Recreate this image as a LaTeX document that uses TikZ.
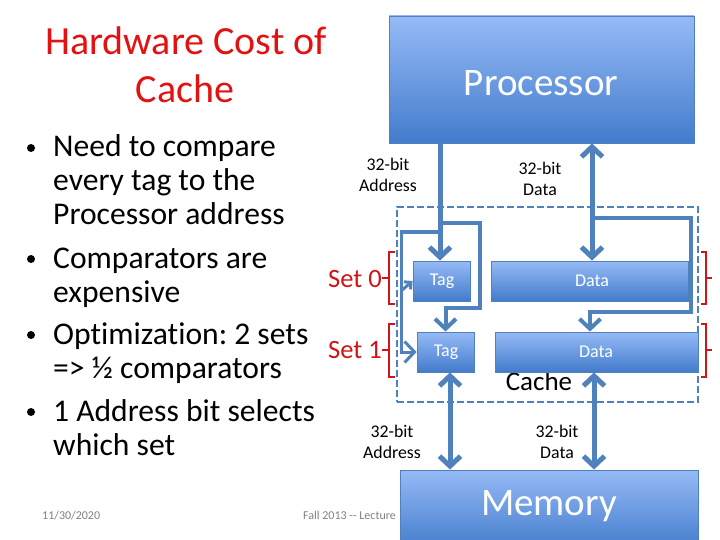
\documentclass[tikz,border=0pt]{standalone}
\usepackage{fontspec}
\setmainfont{Carlito}[Ligatures=NoCommon]
\usetikzlibrary{arrows.meta}
\definecolor{wire}{RGB}{79,129,189}
\definecolor{boxtop}{RGB}{150,186,246}
\definecolor{boxbot}{RGB}{66,124,204}
\definecolor{titlered}{RGB}{226,18,18}
\definecolor{setred}{RGB}{208,20,24}
\definecolor{footgray}{RGB}{128,128,128}
\tikzset{
  blk/.style={draw=wire, line width=0.8pt, top color=boxtop, bottom color=boxbot, inner sep=0pt},
  boxtext/.style={text=white, inner sep=0pt, font=\fontsize{18}{20}\selectfont},
  bigtext/.style={text=white, inner sep=0pt, font=\fontsize{39}{41}\selectfont},
  buslabel/.style={align=center, inner sep=0pt, font=\fontsize{17.8}{20.5}\selectfont},
  bullettext/.style={anchor=base west, inner sep=0pt, font=\fontsize{31.6}{34}\selectfont},
  bulletdot/.style={circle, fill=black, inner sep=0pt, minimum size=8pt},
  settext/.style={anchor=base west, inner sep=0pt, text=setred, font=\fontsize{26.5}{28}\selectfont},
  titletext/.style={inner sep=0pt, text=titlered, font=\fontsize{40}{44}\selectfont},
  foottext/.style={inner sep=0pt, text=footgray, font=\fontsize{12}{14}\selectfont},
  bus/.style={draw=wire, line width=5pt},
  busmid/.style={draw=wire, line width=4pt},
  busthin/.style={draw=wire, line width=3pt},
  tipbig/.style={-{Straight Barb[length=10pt,width=21pt]}},
  tipboth/.style={{Straight Barb[length=10pt,width=21pt]}-{Straight Barb[length=10pt,width=21pt]}},
  tipsmall/.style={-{Straight Barb[length=5pt,width=10pt]}},
  cachebox/.style={draw=wire, line width=2.5pt, dash pattern=on 7pt off 3pt, inner sep=0pt},
  bracket/.style={draw=setred, line width=2.5pt}
}
\begin{document}
\frenchspacing
\begin{tikzpicture}[x=1pt,y=-1pt]
\useasboundingbox (0,0) rectangle (720,540);
\clip (0,0) rectangle (720,540);

% title
\node[titletext, anchor=base] (t1) at (186,55) {Hardware Cost of};
\node[titletext, anchor=base] (t2) at (185,103) {Cache};

% bullets
\node[bulletdot] (b1) at (31,148) {};
\node[bullettext] (l1) at (53,157) {Need to compare};
\node[bullettext] (l2) at (53,191) {every tag to the};
\node[bullettext] (l3) at (53,225) {Processor address};
\node[bulletdot] (b2) at (31,259) {};
\node[bullettext] (l4) at (53,268) {Comparators are};
\node[bullettext] (l5) at (53,302) {expensive};
\node[bulletdot] (b3) at (31,335) {};
\node[bullettext] (l6) at (53,344) {Optimization: 2 sets};
\node[bullettext] (l7) at (53,378) {=> ½ comparators};
\node[bulletdot] (b4) at (31,412) {};
\node[bullettext] (l8) at (53,421) {1 Address bit selects};
\node[bullettext] (l9) at (53,455) {which set};

% footer
\node[foottext, anchor=base west] (date) at (42,519) {11/30/2020};
\node[foottext, anchor=base west] (course) at (303,519) {Fall 2013 -{}- Lecture};

% cache outline
\node[cachebox, minimum width=301pt, minimum height=195pt] (cache) at (547.5,304.5) {};
\node[inner sep=0pt, font=\fontsize{27}{30}\selectfont] (cachelbl) at (539,381) {Cache};

% boxes
\node[blk, minimum width=305pt, minimum height=127pt] (proc) at (541.5,79.5) {};
\node[bigtext] (proctext) at (541,83) {Processor};
\node[blk, minimum width=298pt, minimum height=80pt] (mem) at (549,510) {};
\node[bigtext] (memtext) at (549,506) {Memory};
\node[blk, minimum width=57pt, minimum height=40pt] (tag0) at (441.5,281) {};
\node[boxtext] (tag0t) at (442,281) {Tag};
\node[blk, minimum width=57pt, minimum height=40pt] (tag1) at (445.5,352) {};
\node[boxtext] (tag1t) at (446,352) {Tag};
\node[blk, minimum width=197pt, minimum height=40pt] (data0) at (589.5,281) {};
\node[boxtext] (data0t) at (592,281) {Data};
\node[blk, minimum width=203pt, minimum height=40pt] (data1) at (596.5,352) {};
\node[boxtext] (data1t) at (596,352) {Data};

% bus labels
\node[buslabel] (lab1) at (388,175) {32-bit\\Address};
\node[buslabel] (lab2) at (540,179) {32-bit\\Data};
\node[buslabel] (lab3) at (392,442) {32-bit\\Address};
\node[buslabel] (lab4) at (557,442) {32-bit\\Data};

% coordinates for wiring
\coordinate (ax) at (440,0);
\coordinate (dx) at (592,0);
\coordinate (mx1) at (450,0);
\coordinate (mx2) at (594,0);
\coordinate (r1) at (441.5,223);
\coordinate (r2) at (480,223);
\coordinate (r3) at (480,308);
\coordinate (t1in) at (445.5,308);
\coordinate (q1) at (441.5,232);
\coordinate (q2) at (401,232);
\coordinate (q3) at (401,352);
\coordinate (q4) at (401,291);
\coordinate (s1) at (592,218);
\coordinate (s2) at (691,218);
\coordinate (s3) at (691,312);
\coordinate (s4) at (590,312);

% processor address to tag 0
\draw[bus, tipbig] (proc.south -| ax) -- (tag0.north -| ax);
% branch to tag 1 (top)
\draw[busmid, tipbig] (r1) -- (r2) -- (r3) -- (t1in) -- (tag1.north);
% branch to the left sides
\draw[busthin, tipbig] (q1) -- (q2) -- (q3) -- (tag1.west);
\draw[busthin, tipsmall] (q4) -- (tag0.west);
% processor data
\draw[bus, tipboth] (proc.south -| dx) -- (data0.north -| dx);
\draw[busmid, tipbig] (s1) -- (s2) -- (s3) -- (s4) -- (data1.north -| s4);
% cache to memory
\draw[bus, tipboth] (tag1.south -| mx1) -- (mem.north -| mx1);
\draw[bus, tipboth] (data1.south -| mx2) -- (mem.north -| mx2);

% set labels and brackets
\node[settext] (set0) at (328,287) {Set 0};
\node[settext] (set1) at (328,358) {Set 1};
\draw[bracket] (395,252) -- (389,252) -- (389,304) -- (395,304);
\draw[bracket] (389,278) -- (set0.east |- 389,278);
\draw[bracket] (395,324) -- (389,324) -- (389,377) -- (395,377);
\draw[bracket] (389,350) -- (set1.east |- 389,350);
\draw[bracket] (701,252) -- (706,252) -- (706,304) -- (701,304);
\draw[bracket] (706,278) -- (712,278);
\draw[bracket] (701,324) -- (706,324) -- (706,377) -- (701,377);
\draw[bracket] (706,350) -- (712,350);
\end{tikzpicture}
\end{document}
